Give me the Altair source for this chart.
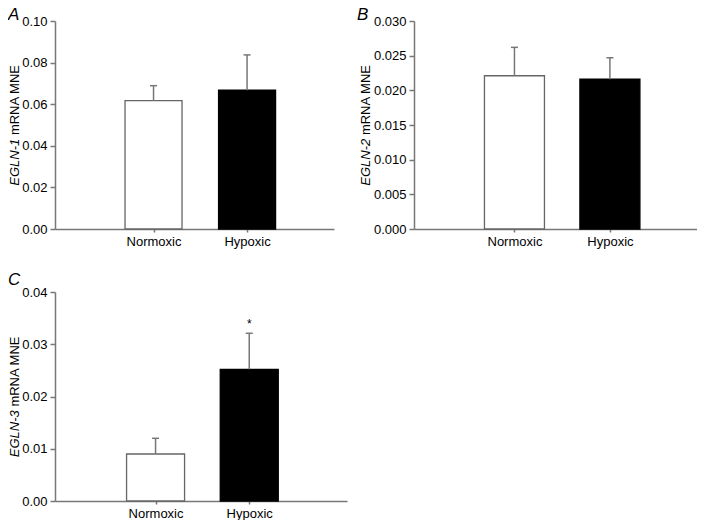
import altair as alt
import pandas as pd

conditions = ["Normoxic", "Hypoxic"]
egln1_mean = [0.0617, 0.0667]
egln1_sem = [0.0072, 0.0170]
egln2_mean = [0.0221, 0.0216]
egln2_sem = [0.0041, 0.0031]
egln3_mean = [0.0090, 0.0252]
egln3_sem = [0.0030, 0.0069]
egln3_sig = ["", "*"]
genes = ["EGLN-1", "EGLN-2", "EGLN-3"]
title_rest = "mRNA MNE"
panel_letters = ["A", "B", "C"]
y_ticks_a = [0, 0.02, 0.04, 0.06, 0.08, 0.10]
y_ticks_b = [0, 0.005, 0.010, 0.015, 0.020, 0.025, 0.030]
y_ticks_c = [0, 0.01, 0.02, 0.03, 0.04]

FONT = "Liberation Sans, Arial, sans-serif"
FS = 13
GREY = "#777777"
# Arial advance widths (per 1000 em) for title layout
W = {"E": 667, "G": 778, "L": 556, "N": 722, "-": 333, " ": 278, "m": 833,
     "R": 722, "A": 667, "M": 833}
for d in "0123456789":
    W[d] = 556


def tw(s):
    return sum(W.get(c, 556) for c in s) * FS / 1000.0


def panel(means, sems, ticks, fmt, gene, letter, width, height, xdomain,
          bar_size, letter_x, letter_y, title_x, sig=None):
    df = pd.DataFrame({
        "condition": conditions,
        "pos": list(range(1, len(conditions) + 1)),
        "mean": means,
        "sem": sems,
        "sig": sig if sig is not None else [""] * len(conditions),
    })
    label_expr = " : ".join(
        f"datum.value == {i + 1} ? '{c}'" for i, c in enumerate(conditions[:-1])
    ) + f" : '{conditions[-1]}'"
    x = alt.X("pos:Q",
              scale=alt.Scale(domain=xdomain, nice=False, zero=False),
              axis=alt.Axis(values=list(range(1, len(conditions) + 1)),
                            tickCount=len(conditions),
                            labelExpr=label_expr, title=None, grid=False,
                            tickSize=3, labelPadding=3, labelFontSize=FS,
                            labelOverlap=False))
    y = alt.Y("mean:Q",
              scale=alt.Scale(domain=[0, ticks[-1]], nice=False),
              axis=alt.Axis(values=ticks, tickCount=len(ticks), format=fmt,
                            title=None, grid=False,
                            tickSize=5, labelPadding=3, labelFontSize=FS,
                            labelOverlap=False))
    base = alt.Chart(df).transform_calculate(top="datum.mean + datum.sem")
    bars = base.mark_bar(size=bar_size, strokeWidth=1.3).encode(
        x=x, y=y,
        fill=alt.Fill("condition:N", scale=alt.Scale(domain=conditions,
                      range=["#ffffff", "#000000"]), legend=None),
        stroke=alt.Stroke("condition:N", scale=alt.Scale(domain=conditions,
                          range=["#666666", "#000000"]), legend=None),
    )
    err = base.mark_rule(color=GREY, strokeWidth=1.5).encode(
        x="pos:Q", y="mean:Q", y2="top:Q")
    cap = base.mark_rule(color=GREY, strokeWidth=1.5, xOffset=-3.5,
                         x2Offset=3.5).encode(x="pos:Q", x2="pos:Q", y="top:Q")
    layers = [bars, err, cap]
    if sig is not None:
        star = base.mark_text(font=FONT, fontSize=12, dy=-9,
                              baseline="middle", color="black").encode(
            x="pos:Q", y="top:Q", text="sig:N")
        layers.append(star)
    # panel letter
    lab = alt.Chart(pd.DataFrame({"t": [letter]})).mark_text(
        font=FONT, fontSize=17, fontStyle="italic", align="left",
        baseline="alphabetic", color="black").encode(
        x=alt.value(letter_x), y=alt.value(letter_y), text="t:N")
    # y title: italic gene name + regular rest
    total = tw(gene + " " + title_rest)
    yj = height / 2 + total / 2 - tw(gene)
    t1 = alt.Chart(pd.DataFrame({"t": [gene]})).mark_text(
        font=FONT, fontSize=FS, fontStyle="italic", angle=270, align="right",
        baseline="middle", color="black").encode(
        x=alt.value(title_x), y=alt.value(yj), text="t:N")
    t2 = alt.Chart(pd.DataFrame({"t": [title_rest]})).mark_text(
        font=FONT, fontSize=FS, angle=270, align="left",
        baseline="middle", color="black").encode(
        x=alt.value(title_x), y=alt.value(yj - tw(" ")), text="t:N")
    layers += [lab, t1, t2]
    return alt.layer(*layers).properties(width=width, height=height)


pa = panel(egln1_mean, egln1_sem, y_ticks_a, ".2f", genes[0], panel_letters[0],
           279, 208, [0, 2.876], 57, -47, -1, -40)
pb = panel(egln2_mean, egln2_sem, y_ticks_b, ".3f", genes[1], panel_letters[1],
           283, 208, [0, 2.86], 60, -57, -1, -48)
pc = panel(egln3_mean, egln3_sem, y_ticks_c, ".2f", genes[2], panel_letters[2],
           292, 209, [-0.02, 2.99], 58, -47, -7, -40, sig=egln3_sig)

chart = alt.concat(pa, pb, pc, columns=2, spacing={"column": 67, "row": 63},
                   bounds="flush").properties(
    padding={"left": 0, "top": -2, "right": 0, "bottom": 0}
).configure_view(stroke=None).configure_axis(
    domainColor=GREY, domainWidth=1.5, tickColor=GREY, tickWidth=1.5,
    labelFont=FONT, labelColor="black", labelFontSize=FS,
)

chart.save("out.html", embed_options={"renderer": "svg", "actions": False})
